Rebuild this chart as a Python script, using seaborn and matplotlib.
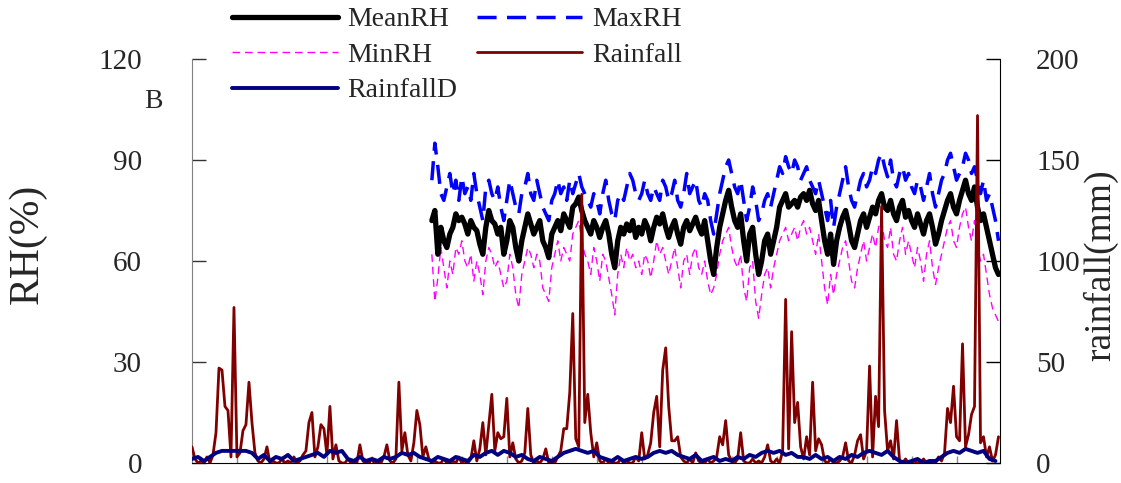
import matplotlib
matplotlib.use("Agg")
import matplotlib.pyplot as plt
import seaborn as sns
import pandas as pd

# ---------------- data ----------------
rain_days = list(range(270))
rainfall = [8, 2, 0, 1, 0, 3, 0, 4, 15, 47, 46, 28, 26, 3, 77, 3, 5, 16, 19, 40,
            20, 5, 1, 0, 2, 8, 0, 1, 0, 0, 2, 0, 1, 0, 3, 0, 1, 4, 6, 20,
            25, 3, 8, 19, 17, 4, 28, 2, 9, 1, 0, 0, 2, 0, 1, 0, 9, 1, 0, 0,
            2, 0, 1, 0, 3, 9, 1, 0, 2, 40, 6, 15, 4, 1, 10, 26, 19, 3, 8, 2,
            0, 1, 0, 0, 2, 0, 0, 1, 0, 3, 0, 1, 0, 2, 11, 1, 7, 20, 4, 19,
            34, 6, 15, 12, 13, 32, 3, 10, 2, 0, 1, 5, 27, 4, 0, 1, 0, 2, 7, 0,
            1, 0, 3, 6, 17, 17, 35, 74, 12, 8, 133, 20, 34, 15, 3, 10, 1, 0, 2, 0,
            1, 0, 0, 2, 0, 1, 0, 0, 3, 1, 15, 2, 4, 10, 25, 33, 8, 46, 57, 28,
            11, 11, 13, 3, 1, 0, 2, 0, 5, 1, 0, 0, 2, 0, 1, 3, 13, 9, 21, 4,
            1, 0, 2, 15, 1, 0, 0, 2, 0, 1, 0, 3, 9, 1, 0, 2, 0, 6, 81, 7,
            65, 20, 30, 8, 2, 13, 4, 40, 6, 12, 9, 1, 0, 2, 0, 0, 1, 3, 10, 1,
            0, 4, 11, 14, 2, 6, 48, 3, 33, 18, 127, 26, 6, 11, 2, 21, 1, 0, 2, 0,
            0, 1, 0, 0, 2, 0, 1, 0, 0, 3, 1, 5, 27, 20, 38, 13, 11, 59, 8, 14,
            24, 28, 172, 10, 13, 3, 8, 1, 4, 13]

rainD_days = list(range(0, 270, 2))
rainfallD = [2, 3, 1, 3,
             5, 6, 6, 6, 6, 6, 5,
             2, 4, 1, 3, 2, 4, 1,
             2, 3, 4, 5, 3, 6, 5, 6,
             2, 1, 3, 1, 2, 1, 3, 2, 3,
             5, 4, 5, 3,
             2, 1, 3, 2, 1, 3, 2, 1,
             4, 3, 5, 6, 4, 6, 5, 3, 4,
             2, 1, 3, 2, 1, 3,
             5, 6, 7, 6, 5, 6, 3,
             2, 1, 3, 1, 2, 3, 2, 3,
             5, 6, 5, 6, 4,
             3, 2, 4, 1, 2, 3, 1, 2, 1, 3,
             2, 4, 3, 5, 6, 5, 6, 4, 5, 3,
             3, 2, 4, 2, 3, 1, 3, 2,
             4, 3, 5, 6, 5, 4, 6, 3,
             1, 0, 1, 2, 0, 1, 1,
             3, 5, 6, 5, 7, 6, 5, 6,
             2, 1]

rh_days = list(range(80, 270))
mean_rh = [72, 75, 62, 70, 66, 64, 68, 70, 74, 72,
           73, 71, 68, 72, 70, 69, 65, 62, 70, 75,
           72, 71, 68, 70, 62, 66, 72, 70, 64, 60,
           66, 70, 74, 71, 68, 70, 72, 66, 64, 61,
           68, 70, 72, 69, 74, 72, 70, 76, 77, 79,
           75, 72, 70, 68, 72, 70, 67, 70, 72, 68,
           62, 58, 66, 70, 68, 71, 69, 72, 67, 70,
           68, 72, 70, 66, 70, 73, 71, 74, 70, 67,
           70, 72, 68, 65, 70, 72, 69, 71, 73, 70,
           68, 72, 66, 60, 56, 64, 70, 74, 78, 81,
           76, 72, 70, 74, 66, 60, 68, 70, 62, 56,
           60, 66, 68, 62, 66, 70, 76, 78, 80, 76,
           77, 78, 76, 79, 80, 78, 81, 77, 75, 78,
           72, 66, 62, 68, 59, 66, 70, 73, 75, 71,
           66, 64, 68, 72, 74, 70, 73, 76, 74, 78,
           80, 76, 75, 78, 74, 72, 76, 78, 73, 75,
           72, 70, 74, 71, 68, 72, 74, 70, 65, 68,
           72, 75, 78, 80, 76, 74, 78, 81, 84, 80,
           78, 82, 76, 72, 74, 70, 66, 62, 58, 56]
max_rh = [84, 95, 88, 80, 78, 82, 86, 80, 84, 78,
          85, 80, 82, 78, 86, 80, 76, 72, 82, 84,
          80, 78, 82, 76, 72, 78, 84, 80, 76, 74,
          80, 82, 86, 80, 78, 84, 80, 76, 74, 72,
          78, 80, 84, 80, 82, 78, 84, 80, 83, 86,
          82, 80, 78, 76, 80, 78, 74, 80, 84, 78,
          74, 72, 78, 80, 78, 82, 86, 84, 80, 78,
          80, 84, 80, 78, 82, 80, 78, 84, 82, 78,
          80, 84, 78, 76, 80, 86, 80, 82, 84, 78,
          76, 80, 78, 72, 68, 74, 80, 84, 88, 90,
          86, 82, 80, 84, 78, 72, 76, 82, 78, 72,
          74, 78, 80, 76, 80, 84, 88, 86, 91, 88,
          86, 90, 88, 84, 86, 88, 84, 82, 80, 84,
          80, 76, 72, 78, 70, 76, 80, 84, 88, 82,
          78, 76, 80, 84, 86, 82, 84, 88, 86, 90,
          92, 88, 85, 90, 84, 82, 86, 88, 84, 86,
          82, 80, 84, 82, 78, 82, 86, 80, 76, 80,
          84, 86, 90, 92, 88, 84, 86, 88, 92, 90,
          86, 88, 84, 80, 84, 78, 80, 76, 72, 66]
min_rh = [62, 48, 55, 64, 58, 52, 60, 56, 64, 62,
          66, 60, 58, 62, 54, 60, 56, 50, 60, 64,
          62, 58, 60, 56, 52, 54, 62, 58, 50, 46,
          56, 60, 64, 62, 58, 62, 60, 52, 50, 48,
          58, 62, 66, 60, 64, 62, 60, 68, 70, 72,
          66, 62, 60, 56, 64, 60, 54, 62, 60, 55,
          50, 44, 56, 62, 58, 64, 60, 62, 58, 60,
          56, 62, 60, 55, 60, 66, 62, 64, 60, 56,
          60, 64, 58, 52, 60, 62, 56, 62, 64, 58,
          56, 60, 54, 50, 52, 56, 62, 66, 68, 70,
          64, 60, 58, 62, 52, 48, 58, 60, 48, 43,
          50, 56, 58, 52, 58, 62, 66, 68, 70, 66,
          68, 70, 66, 70, 72, 68, 70, 66, 62, 68,
          60, 52, 47, 56, 50, 56, 60, 64, 66, 60,
          54, 52, 58, 62, 66, 60, 64, 68, 64, 70,
          72, 66, 64, 70, 62, 60, 66, 70, 62, 66,
          62, 58, 64, 60, 54, 62, 66, 58, 53, 58,
          62, 66, 70, 72, 66, 64, 70, 74, 76, 70,
          66, 72, 64, 60, 62, 56, 50, 46, 44, 42]

rh_ticks = [0, 30, 60, 90, 120]
rain_ticks = [0, 50, 100, 150, 200]

# ---------------- styling ----------------
sns.set_style("white")
plt.rcParams["font.family"] = ["Liberation Serif", "DejaVu Serif"]

W, H = 1121, 483
fig = plt.figure(figsize=(W / 100, H / 100), dpi=100)
ax = fig.add_axes([192 / W, (H - 463) / H, (1000 - 192) / W, (463 - 59) / H])
ax2 = ax.twinx()

df_rh = pd.DataFrame({"day": rh_days, "MeanRH": mean_rh, "MaxRH": max_rh, "MinRH": min_rh})
df_rain = pd.DataFrame({"day": rain_days, "Rainfall": rainfall})
df_rd = pd.DataFrame({"day": rainD_days, "RainfallD": rainfallD})

sns.lineplot(data=df_rh, x="day", y="MinRH", ax=ax, color="#FF00FF", lw=1.0,
             linestyle=(0, (5.5, 3.5)), errorbar=None, label="MinRH", legend=False)
sns.lineplot(data=df_rh, x="day", y="MaxRH", ax=ax, color="#0000FF", lw=2.5,
             linestyle=(0, (5.5, 3.0)), errorbar=None, label="MaxRH", legend=False)
sns.lineplot(data=df_rh, x="day", y="MeanRH", ax=ax, color="black", lw=3.8,
             errorbar=None, label="MeanRH", legend=False)
sns.lineplot(data=df_rain, x="day", y="Rainfall", ax=ax2, color="#800000", lw=2.0,
             errorbar=None, label="Rainfall", legend=False)
sns.lineplot(data=df_rd, x="day", y="RainfallD", ax=ax2, color="#000080", lw=2.8,
             errorbar=None, label="RainfallD", legend=False)

ax.set_xlim(0, 269.5)
ax.set_ylim(0, 120)
ax2.set_ylim(0, 200)
ax.set_yticks(rh_ticks)
ax2.set_yticks(rain_ticks)
ax.set_xticks(list(range(15, 270, 15)))
ax.set_xticklabels([])
ax.set_xlabel("")
ax.set_ylabel("")
ax2.set_ylabel("")

for a in (ax, ax2):
    a.spines["top"].set_visible(False)
ax.spines["left"].set_color("#808080")
ax.spines["right"].set_visible(False)
ax2.spines["left"].set_visible(False)
ax2.spines["right"].set_color("black")
ax.spines["bottom"].set_color("black")
ax2.spines["bottom"].set_visible(False)

ax.tick_params(axis="y", direction="in", length=10, width=1, color="#333333",
               labelsize=21, pad=36, left=True)
ax.tick_params(axis="x", direction="in", length=5, width=1, color="#888888",
               bottom=True, labelbottom=False)
ax2.tick_params(axis="y", direction="in", length=10, width=1, color="black",
                labelsize=21, pad=26, right=True)

fig.text(28 / W, 1 - 244 / H, "RH(%)", rotation=90, ha="center", va="center", fontsize=30)
fig.text(1101 / W, 1 - 265 / H, "rainfall(mm)", rotation=90, ha="center", va="center", fontsize=27)
fig.text(153 / W, 1 - 101 / H, "B", ha="center", va="center", fontsize=20)

h1, l1 = ax.get_legend_handles_labels()
h2, l2 = ax2.get_legend_handles_labels()
hd = dict(zip(l1 + l2, h1 + h2))
order = ["MeanRH", "MinRH", "RainfallD", "MaxRH", "Rainfall"]
fig.legend([hd[k] for k in order], order, loc="upper left",
           bbox_to_anchor=(232 / W, 1 - 7 / H), ncol=2, frameon=False,
           fontsize=20, handlelength=3.8, handletextpad=0.35,
           labelspacing=0.36, columnspacing=0.7, borderpad=0, borderaxespad=0)

fig.savefig("out.png", dpi=100)
